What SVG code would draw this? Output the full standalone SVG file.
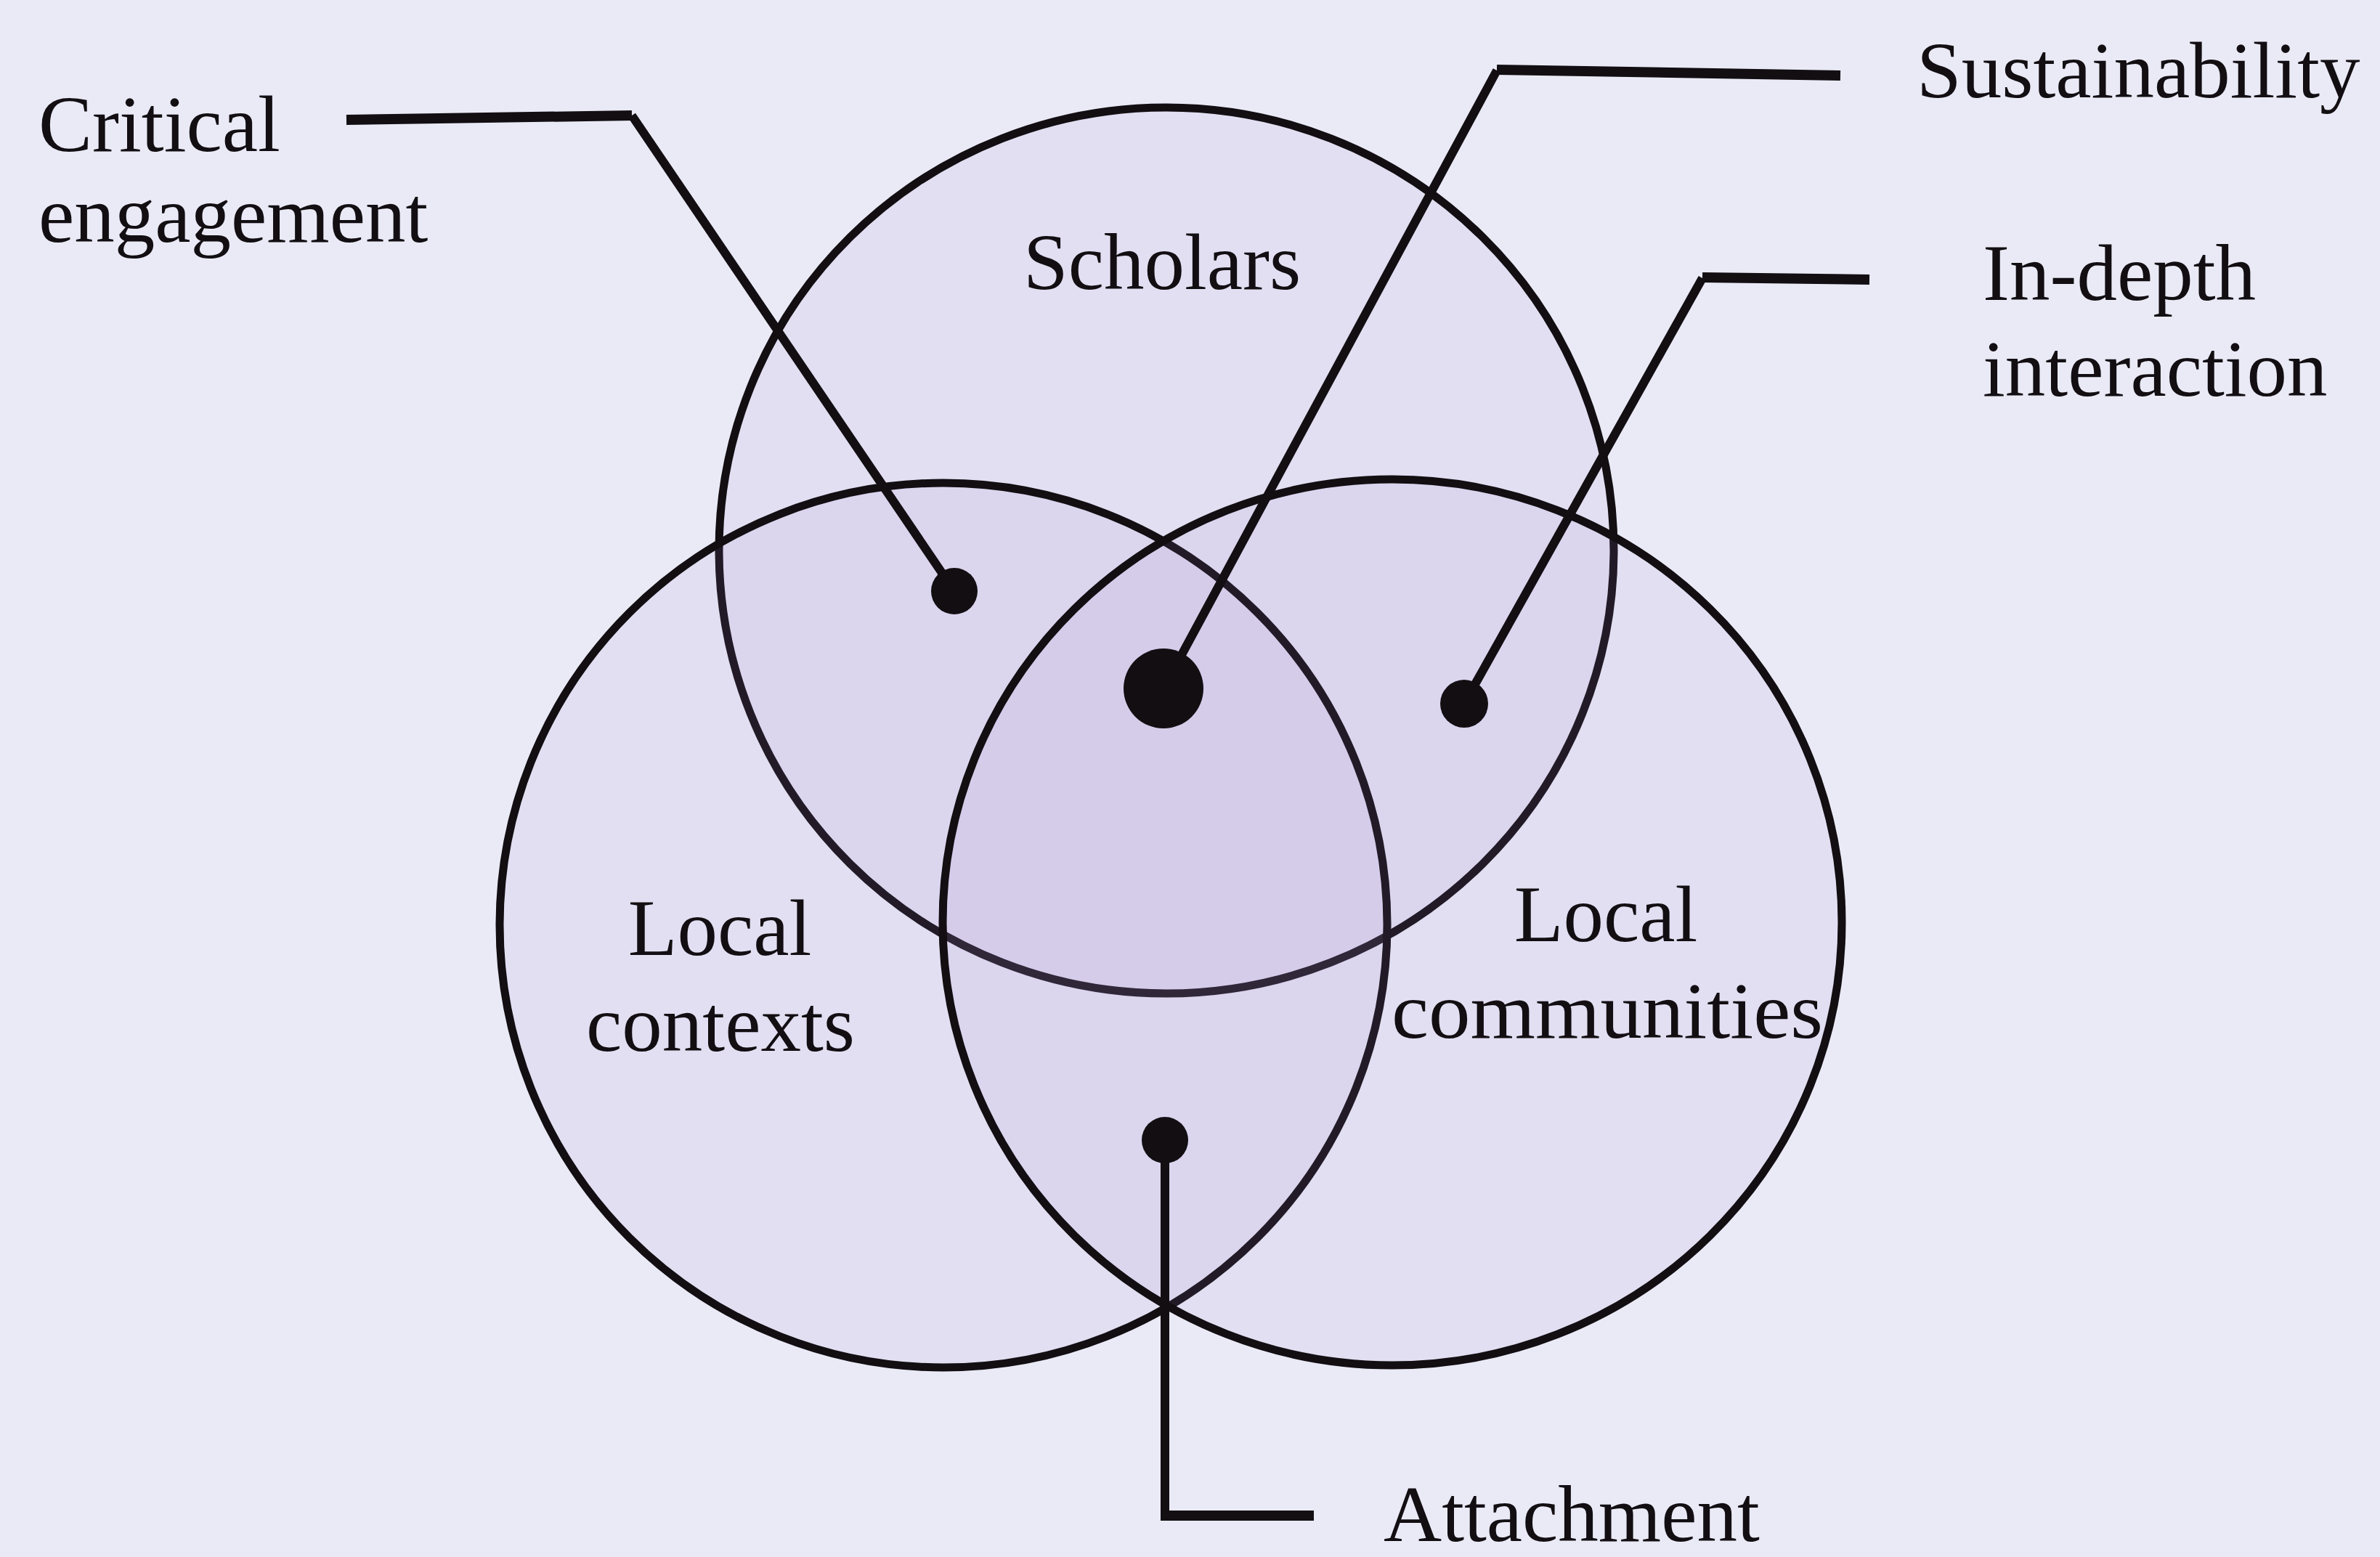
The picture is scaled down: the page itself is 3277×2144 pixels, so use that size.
<svg xmlns="http://www.w3.org/2000/svg" width="3277" height="2144" viewBox="0 0 3277 2144">
  <style>
    .set { fill: #a488d6; fill-opacity: 0.11; stroke: #120e12; stroke-width: 11; }
    .lbl { font-family: "Liberation Serif", "Times New Roman", serif; font-size: 111px; fill: #120e12; }
    .mid { text-anchor: middle; }
    .lead { fill: none; stroke: #120e12; stroke-width: 12; stroke-linejoin: miter; }
    .tick { fill: none; stroke: #120e12; stroke-width: 14; }
    .dot { fill: #120e12; }
  </style>
  <rect x="0" y="0" width="3277" height="2144" fill="#eaeaf6"/>

  <g id="scholars">
    <ellipse class="set" cx="1606" cy="758" rx="616" ry="610"/>
    <text class="lbl" x="1409" y="398">Scholars</text>
  </g>
  <g id="local-contexts">
    <ellipse class="set" cx="1299" cy="1274" rx="611" ry="609"/>
    <text class="lbl mid" x="991" y="1315">Local</text>
    <text class="lbl mid" x="992" y="1447">contexts</text>
  </g>
  <g id="local-communities">
    <ellipse class="set" cx="1917" cy="1270" rx="619" ry="610"/>
    <text class="lbl mid" x="2211" y="1296">Local</text>
    <text class="lbl mid" x="2213" y="1429" textLength="594" lengthAdjust="spacingAndGlyphs">communities</text>
  </g>

  <g id="connectors">
    <polyline class="lead" points="870,159 1314,814"/>
    <polyline class="tick" points="477,165 870,159"/>
    <polyline class="lead" points="2061,97 1602,948"/>
    <polyline class="tick" points="2534,104 2061,96"/>
    <polyline class="lead" points="2344,383 2016,969"/>
    <polyline class="tick" points="2574,385 2344,382"/>
    <polyline class="lead" points="1604,1570 1604,2087"/>
    <polyline class="tick" points="1598,2087 1809,2087"/>
  </g>

  <g id="critical-engagement">
    <circle class="dot" cx="1314" cy="814" r="32"/>
    <text class="lbl" x="53" y="208">Critical</text>
    <text class="lbl" x="53" y="333">engagement</text>
  </g>
  <g id="sustainability">
    <circle class="dot" cx="1602" cy="948" r="55"/>
    <text class="lbl" x="2639" y="134">Sustainability</text>
  </g>
  <g id="in-depth-interaction">
    <circle class="dot" cx="2016" cy="969" r="33"/>
    <text class="lbl" x="2730" y="413">In-depth</text>
    <text class="lbl" x="2730" y="545">interaction</text>
  </g>
  <g id="attachment">
    <circle class="dot" cx="1604" cy="1570" r="32"/>
    <text class="lbl" x="1905" y="2122">Attachment</text>
  </g>
</svg>
